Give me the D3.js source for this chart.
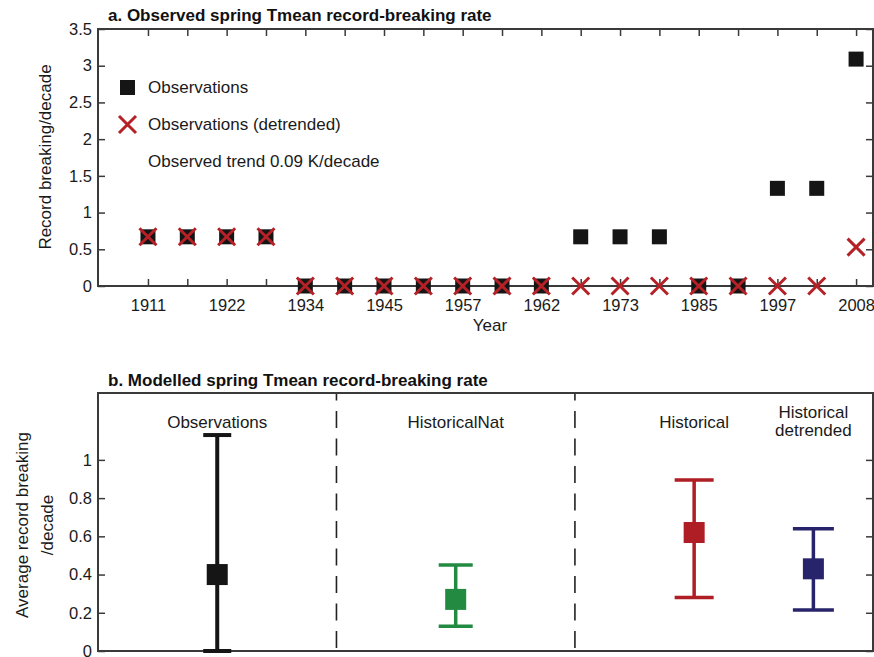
<!DOCTYPE html>
<html>
<head>
<meta charset="utf-8">
<script src="https://cdn.jsdelivr.net/npm/d3@7"></script>
<style>
  body { margin: 0; background: #fff; }
  svg { display: block; font-family: "Liberation Sans", Arial, sans-serif; }
  .frame { fill: none; stroke: #3a3a3a; stroke-width: 2; }
  .axis path { display: none; }
  .axis line { stroke: #3a3a3a; stroke-width: 1.5; }
  .axis text { font-size: 16.5px; fill: #1a1a1a; font-family: "Liberation Sans", Arial, sans-serif; }
  .title { font-size: 17px; font-weight: bold; fill: #111; }
  .lbl { font-size: 17px; fill: #1a1a1a; }
</style>
</head>
<body>
<div id="chart"></div>
<script>
// ---- panel a data: record-breaking rate per 19 windows ----
var yearLabels = ["1911", "1922", "1934", "1945", "1957", "1962", "1973", "1985", "1997", "2008"];
var obsRate = [0.67, 0.67, 0.67, 0.67, 0, 0, 0, 0, 0, 0, 0, 0.67, 0.67, 0.67, 0, 0, 1.33, 1.33, 3.09];
var detrendedRate = [0.67, 0.67, 0.67, 0.67, 0, 0, 0, 0, 0, 0, 0, 0, 0, 0, 0, 0, 0, 0, 0.53];
var topTicks = [0, 0.5, 1, 1.5, 2, 2.5, 3, 3.5];

// ---- panel b data ----
var groups = ["Observations", "HistoricalNat", "Historical", "Historical detrended"];
var groupPos = [1, 2, 3, 3.5];
var groupMean = [0.40, 0.27, 0.62, 0.43];
var groupLow = [0, 0.13, 0.28, 0.215];
var groupHigh = [1.13, 0.45, 0.895, 0.64];
var bottomTicks = [0, 0.2, 0.4, 0.6, 0.8, 1];
var dividers = [1.5, 2.5];

// styles
var groupColor = ["#151515", "#238a42", "#b01e25", "#28246b"];
var capWidth = [28, 34, 39, 41];
var lineWidth = [4, 3.5, 3.5, 3.5];
var red = "#b52126";

var width = 874, height = 657;
var svg = d3.select("#chart").append("svg")
    .attr("width", width)
    .attr("height", height);

/***** Panel a *****/
var a = {left: 98, right: 873, top: 29, bottom: 286};
var xA = d3.scaleLinear().domain([-1.27, 18.43]).range([a.left, a.right]);
var yA = d3.scaleLinear().domain([0, 3.5]).range([a.bottom, a.top]);
var idx = d3.range(obsRate.length);

svg.append("text").attr("class", "title")
    .attr("x", 108).attr("y", 21)
    .text("a. Observed spring Tmean record-breaking rate");

svg.append("g").attr("class", "axis")
    .attr("transform", "translate(" + a.left + ",0)")
    .call(d3.axisLeft(yA).tickValues(topTicks).tickSize(-7).tickPadding(6)
      .tickFormat(d3.format("")));
svg.append("g").attr("class", "axis")
    .attr("transform", "translate(" + a.right + ",0)")
    .call(d3.axisRight(yA).tickValues(topTicks).tickSize(-7).tickFormat(""));
svg.append("g").attr("class", "axis")
    .attr("transform", "translate(0," + a.top + ")")
    .call(d3.axisTop(xA).tickValues(idx).tickSize(-7).tickFormat(""));
svg.append("g").attr("class", "axis")
    .attr("transform", "translate(0," + a.bottom + ")")
    .call(d3.axisBottom(xA).tickValues(idx).tickSize(-7).tickPadding(13)
      .tickFormat(function(i) { return i % 2 === 0 ? yearLabels[i / 2] : ""; }));

svg.append("rect").attr("class", "frame")
    .attr("x", a.left).attr("y", a.top)
    .attr("width", a.right - a.left).attr("height", a.bottom - a.top);

svg.append("text").attr("class", "lbl")
    .attr("x", 490).attr("y", 331).attr("text-anchor", "middle")
    .text("Year");
svg.append("text").attr("class", "lbl")
    .attr("transform", "translate(51,157) rotate(-90)")
    .attr("text-anchor", "middle")
    .text("Record breaking/decade");

var sq = 15;
svg.append("g").selectAll("rect")
    .data(obsRate)
    .join("rect")
    .attr("x", function(d, i) { return xA(i) - sq / 2; })
    .attr("y", function(d) { return yA(d) - sq / 2; })
    .attr("width", sq).attr("height", sq)
    .attr("fill", "#151515");

var xs = 8.5;
function cross(sel, cx, cy) {
  sel.append("path")
    .attr("d", "M" + (cx - xs) + "," + (cy - xs) + "L" + (cx + xs) + "," + (cy + xs) +
               "M" + (cx - xs) + "," + (cy + xs) + "L" + (cx + xs) + "," + (cy - xs))
    .attr("stroke", red).attr("stroke-width", 3).attr("fill", "none");
}
var crosses = svg.append("g");
detrendedRate.forEach(function(d, i) { cross(crosses, xA(i), yA(d)); });

// legend
var leg = svg.append("g");
leg.append("rect").attr("x", 120).attr("y", 80).attr("width", 15).attr("height", 15).attr("fill", "#151515");
cross(leg, 127.5, 124.5);
leg.append("text").attr("class", "lbl").attr("x", 148).attr("y", 87).attr("dy", "0.35em").text("Observations");
leg.append("text").attr("class", "lbl").attr("x", 148).attr("y", 124).attr("dy", "0.35em").text("Observations (detrended)");
leg.append("text").attr("class", "lbl").attr("x", 148).attr("y", 161).attr("dy", "0.35em").text("Observed trend 0.09 K/decade");

/***** Panel b *****/
var b = {left: 98, right: 873, top: 393, bottom: 651};
var xB = d3.scaleLinear().domain([0.5, 3.75]).range([b.left, b.right]);
var yB = d3.scaleLinear().domain([0, 1.35]).range([b.bottom, b.top]);

svg.append("text").attr("class", "title")
    .attr("x", 108).attr("y", 386)
    .text("b. Modelled spring Tmean record-breaking rate");

svg.append("g").attr("class", "axis")
    .attr("transform", "translate(" + b.left + ",0)")
    .call(d3.axisLeft(yB).tickValues(bottomTicks).tickSize(-7).tickPadding(6)
      .tickFormat(d3.format("")));
svg.append("g").attr("class", "axis")
    .attr("transform", "translate(" + b.right + ",0)")
    .call(d3.axisRight(yB).tickValues(bottomTicks).tickSize(-7).tickFormat(""));

svg.append("g").selectAll("line")
    .data(dividers)
    .join("line")
    .attr("x1", function(d) { return xB(d); }).attr("x2", function(d) { return xB(d); })
    .attr("y1", b.top).attr("y2", b.bottom)
    .attr("stroke", "#222").attr("stroke-width", 1.6)
    .attr("stroke-dasharray", "17,10.5").attr("stroke-dashoffset", 9.5);

svg.append("rect").attr("class", "frame")
    .attr("x", b.left).attr("y", b.top)
    .attr("width", b.right - b.left).attr("height", b.bottom - b.top);

var yl = svg.append("text").attr("class", "lbl")
    .attr("transform", "translate(22,525) rotate(-90)")
    .attr("text-anchor", "middle");
yl.append("tspan").attr("x", 0).attr("dy", "0.35em").text("Average record breaking");
yl.append("tspan").attr("x", 0).attr("dy", "1.45em").text("/decade");

// group labels
groups.forEach(function(g, i) {
  var words = g.split(" ");
  var t = svg.append("text").attr("class", "lbl")
      .attr("text-anchor", "middle")
      .attr("transform", "translate(" + xB(groupPos[i]) + "," + (words.length > 1 ? 412 : 422) + ")");
  words.forEach(function(w, k) {
    t.append("tspan").attr("x", 0).attr("dy", k === 0 ? "0.35em" : "1.05em").text(w);
  });
});

// error bars
var bars = svg.append("g").selectAll("g")
    .data(groups)
    .join("g");
bars.append("line")
    .attr("x1", function(d, i) { return xB(groupPos[i]); })
    .attr("x2", function(d, i) { return xB(groupPos[i]); })
    .attr("y1", function(d, i) { return yB(groupLow[i]); })
    .attr("y2", function(d, i) { return yB(groupHigh[i]); })
    .attr("stroke", function(d, i) { return groupColor[i]; })
    .attr("stroke-width", function(d, i) { return lineWidth[i]; });
[groupLow, groupHigh].forEach(function(arr) {
  bars.append("line")
      .attr("x1", function(d, i) { return xB(groupPos[i]) - capWidth[i] / 2; })
      .attr("x2", function(d, i) { return xB(groupPos[i]) + capWidth[i] / 2; })
      .attr("y1", function(d, i) { return yB(arr[i]); })
      .attr("y2", function(d, i) { return yB(arr[i]); })
      .attr("stroke", function(d, i) { return groupColor[i]; })
      .attr("stroke-width", function(d, i) { return lineWidth[i]; });
});
var bsq = 21;
bars.append("rect")
    .attr("x", function(d, i) { return xB(groupPos[i]) - bsq / 2; })
    .attr("y", function(d, i) { return yB(groupMean[i]) - bsq / 2; })
    .attr("width", bsq).attr("height", bsq)
    .attr("fill", function(d, i) { return groupColor[i]; });
</script>
</body>
</html>
